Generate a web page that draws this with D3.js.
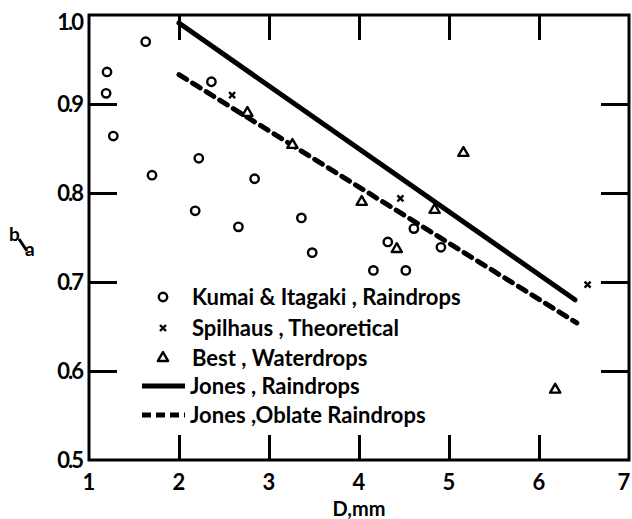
<!DOCTYPE html>
<html>
<head>
<meta charset="utf-8">
<script src="https://cdn.jsdelivr.net/npm/d3@7"></script>
<style>
  html, body { margin: 0; padding: 0; background: #fff; }
  svg { display: block; }
  text { font-family: Lato, "Open Sans", sans-serif; fill: #000; }
</style>
</head>
<body>
<svg id="chart" width="632" height="519"></svg>
<script>
// Axis ratio b/a of falling drops versus equivalent diameter D (mm)

const xTicks = [1, 2, 3, 4, 5, 6, 7];
const yTicks = [0.5, 0.6, 0.7, 0.8, 0.9, 1.0];
const yTickLabels = ["0.5", "0.6", "0.7", "0.8", "0.9", "1.0"];

// Kumai & Itagaki, raindrops
const kumaiD = [1.20, 1.19, 1.27, 1.63, 1.70, 2.22, 2.36, 2.18, 2.66, 2.84, 3.36, 3.48, 4.16, 4.52, 4.32, 4.61, 4.91];
const kumaiR = [0.936, 0.912, 0.864, 0.970, 0.820, 0.839, 0.925, 0.780, 0.762, 0.816, 0.772, 0.733, 0.713, 0.713, 0.745, 0.760, 0.739];

// Spilhaus, theoretical
const spilD = [2.59, 4.46, 6.54];
const spilR = [0.910, 0.794, 0.697];

// Best, waterdrops
const bestD = [2.76, 3.26, 4.03, 4.84, 4.42, 5.16, 6.18];
const bestR = [0.890, 0.854, 0.790, 0.781, 0.737, 0.845, 0.579];

// Jones, raindrops (solid) and oblate raindrops (dashed)
const jonesD = [2.0, 6.40];
const jonesR = [0.991, 0.680];
const jonesOblateD = [2.0, 6.42];
const jonesOblateR = [0.933, 0.654];

const legendLabels = [
  "Kumai & Itagaki , Raindrops",
  "Spilhaus , Theoretical",
  "Best , Waterdrops",
  "Jones , Raindrops",
  "Jones ,Oblate Raindrops"
];

const svg = d3.select("#chart");
const plotL = 89, plotR = 629, plotT = 15, plotB = 460;

const x = d3.scaleLinear().domain([1, 7]).range([plotL, plotR]);
const y = d3.scaleLinear().domain([0.5, 1.0]).range([plotB, plotT]);

const ink = "#000";
const tickLen = 25;

// Frame
svg.append("rect")
  .attr("x", plotL).attr("y", plotT)
  .attr("width", plotR - plotL).attr("height", plotB - plotT)
  .attr("fill", "none").attr("stroke", ink).attr("stroke-width", 3);

// Inward ticks on all four sides via d3 axes
const axB = d3.axisBottom(x).tickValues(xTicks.slice(1, -1)).tickSize(-tickLen).tickFormat("");
const axT = d3.axisTop(x).tickValues(xTicks.slice(1, -1)).tickSize(-tickLen).tickFormat("");
const axL = d3.axisLeft(y).tickValues(yTicks.slice(1, -1)).tickSize(-28).tickFormat("");
const axR = d3.axisRight(y).tickValues(yTicks.slice(1, -1)).tickSize(-28).tickFormat("");

function styleAxis(g) {
  g.select(".domain").remove();
  g.selectAll(".tick line").attr("stroke", ink).attr("stroke-width", 3);
}
svg.append("g").attr("transform", `translate(0,${plotB})`).call(axB).call(styleAxis);
svg.append("g").attr("transform", `translate(0,${plotT})`).call(axT).call(styleAxis);
svg.append("g").attr("transform", `translate(${plotL},0)`).call(axL).call(styleAxis);
svg.append("g").attr("transform", `translate(${plotR},0)`).call(axR).call(styleAxis);

// Tick labels (the last one is kept inside the page edge)
svg.append("g").selectAll("text").data(xTicks).join("text")
  .attr("x", d => Math.min(x(d), 624)).attr("y", 490)
  .attr("text-anchor", "middle")
  .style("font-size", "22px").style("font-weight", "bold")
  .text(d => d);

svg.append("g").selectAll("text").data(yTicks).join("text")
  .attr("x", 82).attr("y", d => Math.max(y(d), 22) + 8)
  .attr("text-anchor", "end")
  .style("font-size", "22px").style("font-weight", "bold")
  .style("letter-spacing", "-2px")
  .text((d, i) => yTickLabels[i]);

// Axis titles
svg.append("text").attr("x", 359).attr("y", 516)
  .attr("text-anchor", "middle")
  .style("font-size", "20px").style("font-weight", "bold")
  .text("D,mm");

const ba = svg.append("g");
ba.append("text").attr("x", 9).attr("y", 241).style("font-size", "19px").style("font-weight", "bold").text("b");
ba.append("line").attr("x1", 19).attr("y1", 239).attr("x2", 27).attr("y2", 251)
  .attr("stroke", ink).attr("stroke-width", 3);
ba.append("text").attr("x", 25).attr("y", 256).style("font-size", "19px").style("font-weight", "bold").text("a");

// Jones lines
const line = d3.line().x(d => x(d[0])).y(d => y(d[1]));
svg.append("path").datum(d3.zip(jonesD, jonesR))
  .attr("d", line).attr("fill", "none").attr("stroke", ink)
  .attr("stroke-width", 5).attr("stroke-linecap", "round");
svg.append("path").datum(d3.zip(jonesOblateD, jonesOblateR))
  .attr("d", line).attr("fill", "none").attr("stroke", ink)
  .attr("stroke-width", 5).attr("stroke-dasharray", "9,7").attr("stroke-linecap", "round");

// Marker drawing helpers
function circleMark(g, cx, cy) {
  g.append("circle").attr("cx", cx).attr("cy", cy).attr("r", 4.2)
    .attr("fill", "#fff").attr("stroke", ink).attr("stroke-width", 2.4);
}
function crossMark(g, cx, cy) {
  const s = 3;
  g.append("path")
    .attr("d", `M${cx - s},${cy - s}L${cx + s},${cy + s}M${cx + s},${cy - s}L${cx - s},${cy + s}`)
    .attr("stroke", ink).attr("stroke-width", 2.4).attr("fill", "none");
}
function triMark(g, cx, cy) {
  const t = d3.symbol().type(d3.symbolTriangle).size(45);
  g.append("path").attr("d", t()).attr("transform", `translate(${cx},${cy})`)
    .attr("fill", "#fff").attr("stroke", ink).attr("stroke-width", 2.4)
    .attr("stroke-linejoin", "round");
}

const marks = svg.append("g");
d3.zip(kumaiD, kumaiR).forEach(([d, r]) => circleMark(marks, x(d), y(r)));
d3.zip(spilD, spilR).forEach(([d, r]) => crossMark(marks, x(d), y(r)));
d3.zip(bestD, bestR).forEach(([d, r]) => triMark(marks, x(d), y(r)));

// Legend
const lg = svg.append("g");
const rowY = [297, 328, 358, 386, 415];
const textX = 192;
circleMark(lg, 163, rowY[0]);
crossMark(lg, 163, rowY[1]);
triMark(lg, 163, rowY[2]);
lg.append("line").attr("x1", 142).attr("x2", 185).attr("y1", rowY[3]).attr("y2", rowY[3])
  .attr("stroke", ink).attr("stroke-width", 5);
lg.append("line").attr("x1", 142).attr("x2", 185).attr("y1", rowY[4]).attr("y2", rowY[4])
  .attr("stroke", ink).attr("stroke-width", 5).attr("stroke-dasharray", "9,5");
lg.selectAll("text.lbl").data(legendLabels).join("text")
  .attr("class", "lbl")
  .attr("x", (d, i) => i >= 3 ? 190 : textX)
  .attr("y", (d, i) => rowY[i] + 8)
  .style("font-size", "22px").style("font-weight", "bold")
  .text(d => d);
</script>
</body>
</html>
